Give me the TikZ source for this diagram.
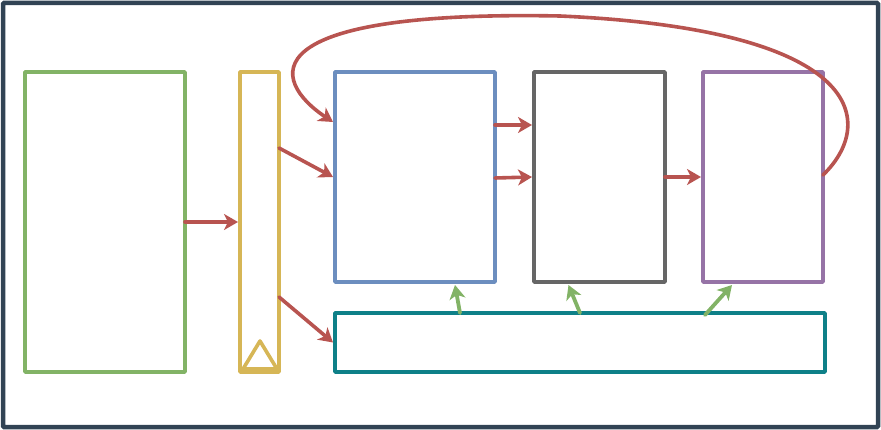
\documentclass[tikz,border=0pt]{standalone}
\usetikzlibrary{arrows.meta}
\definecolor{framec}{HTML}{314354}
\definecolor{greenc}{HTML}{82B366}
\definecolor{yellowc}{HTML}{D6B656}
\definecolor{bluec}{HTML}{6C8EBF}
\definecolor{grayc}{HTML}{666666}
\definecolor{purplec}{HTML}{9673A6}
\definecolor{tealc}{HTML}{0E8088}
\definecolor{redc}{HTML}{B85450}
\tikzset{
  box/.style={draw=#1, line width=3.6pt, line join=round, fill=white,
    inner sep=0pt, outer sep=0pt},
  redarrow/.style={draw=redc, line width=3.6pt, line cap=round,
    -{Stealth[length=14pt, width=16pt, inset=4pt]}},
  greenarrow/.style={draw=greenc, line width=3.8pt, line cap=round,
    -{Stealth[length=14pt, width=16pt, inset=4pt]}}
}
\begin{document}
\begin{tikzpicture}[x=1pt, y=-1pt]
  \useasboundingbox (0,0) rectangle (881,430);
  % frame
  \draw[framec, line width=4.5pt, rounded corners=1pt] (3,3) rectangle (878,427);

  % boxes
  \node[box=greenc, minimum width=160pt, minimum height=300pt] (input) at (105,222) {};
  \node[box=yellowc, minimum width=39pt, minimum height=300pt] (bar) at (259.5,222) {};
  \node[box=bluec, minimum width=160pt, minimum height=210pt] (stageA) at (415,177) {};
  \node[box=grayc, minimum width=131pt, minimum height=210pt] (stageB) at (599.5,177) {};
  \node[box=purplec, minimum width=120pt, minimum height=210pt] (stageC) at (763,177) {};
  \node[box=tealc, minimum width=490pt, minimum height=59pt] (store) at (580,342.5) {};

  % triangle in the bar
  \draw[yellowc, line width=3.6pt, line join=round] (243,369) -- (260,341) -- (277,369) -- cycle;

  % red flow
  \draw[redarrow] (input.east) -- ([xshift=-2pt]bar.west);
  \draw[redarrow] ([yshift=74pt]bar.east) -- ([xshift=-2pt]stageA.west);
  \draw[redarrow] ([yshift=-75pt]bar.east) -- ([xshift=-2pt]store.west);
  \draw[redarrow] ([yshift=52pt]stageA.east) -- ([xshift=-2pt,yshift=52pt]stageB.west);
  \draw[redarrow] ([yshift=-1pt]stageA.east) -- ([xshift=-2pt]stageB.west);
  \draw[redarrow] (stageB.east) -- ([xshift=-2pt]stageC.west);
  \draw[redarrow] ([yshift=2pt]stageC.east) .. controls (875,125) and (870,30) .. (560,16)
    .. controls (250,10) and (270,80) .. ([xshift=-2pt,yshift=55pt]stageA.west);

  % green feedback
  \draw[greenarrow] ([xshift=-120pt]store.north) -- ([xshift=40pt,yshift=-3pt]stageA.south);
  \draw[greenarrow] (store.north) -- ([xshift=-31pt,yshift=-3pt]stageB.south);
  \draw[greenarrow] ([xshift=125pt,yshift=-2pt]store.north) -- ([xshift=-31pt,yshift=-3pt]stageC.south);
\end{tikzpicture}
\end{document}
